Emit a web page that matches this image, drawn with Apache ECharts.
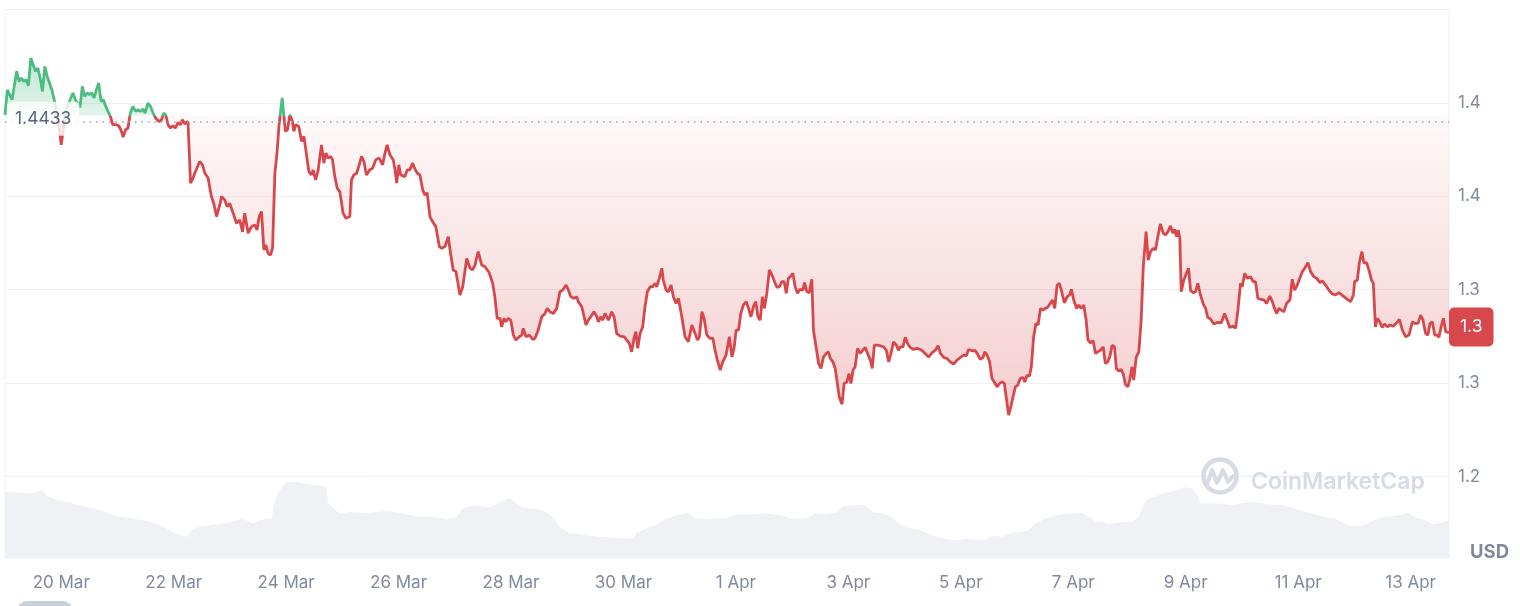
<!DOCTYPE html>
<html><head><meta charset="utf-8">
<script src="https://cdn.jsdelivr.net/npm/echarts@6/dist/echarts.min.js"></script>
<style>html,body{margin:0;padding:0;background:#fff}#c{width:1520px;height:606px}</style>
</head><body><div id="c"></div>
<script>
// Reference (open) price of the period
const baseline = 1.4433;
// [hours since 20 Mar 00:00, price USD]
const pricePoints = [
[-24,1.4437],[-23,1.4571],[-21,1.4518],[-19,1.4670],[-18,1.4616],[-17,1.4634],[-16,1.4616],[-15,1.4625],[-14,1.4593],[-13,1.4741],
[-11,1.4670],[-10,1.4688],[-9,1.4634],[-8,1.4562],[-7,1.4696],[-6,1.4643],[-4,1.4571],[-3,1.4518],[-1,1.4384],[0,1.4276],
[2,1.4464],[5,1.4554],[6,1.4518],[7,1.4500],[8,1.4475],[9,1.4589],[10,1.4535],[11,1.4554],[12,1.4545],[13,1.4554],
[14,1.4527],[15,1.4571],[16,1.4607],[17,1.4509],[18,1.4518],[19,1.4482],[21,1.4428],[22,1.4384],[23.5,1.4384],[24.6,1.4378],
[25.7,1.4348],[26.4,1.4318],[27.5,1.4357],[28.5,1.4366],[29.5,1.4446],[30.6,1.4482],[31.8,1.4455],[32.8,1.4464],[33.8,1.4455],[34.9,1.4468],
[35.8,1.4446],[37.0,1.4500],[38.1,1.4482],[39.2,1.4446],[40.3,1.4420],[41.7,1.4401],[42.8,1.4410],[43.7,1.4446],[44.6,1.4437],[45.6,1.4384],
[46.6,1.4366],[47.7,1.4378],[48.7,1.4366],[49.9,1.4396],[50.9,1.4384],[51.7,1.4410],[52.7,1.4389],[54.1,1.4401],[55.2,1.4071],[56.3,1.4098],
[57.0,1.4124],[57.7,1.4115],[59.1,1.4187],[60.3,1.4169],[61.3,1.4124],[62.7,1.4098],[64.1,1.3999],[65.1,1.3963],[66.3,1.3892],[67.7,1.3954],
[68.4,1.3999],[69.8,1.3981],[70.8,1.3945],[71.9,1.3963],[73.4,1.3910],[74.8,1.3856],[76.2,1.3874],[77.4,1.3810],[78.3,1.3910],[79.8,1.3803],
[81.2,1.3838],[82.6,1.3847],[83.6,1.3820],[84.5,1.3892],[85.5,1.3918],[86.5,1.3713],[87.3,1.3740],[88.3,1.3695],[89.3,1.3686],[90.2,1.3722],
[91.2,1.4124],[92.1,1.4232],[93.0,1.4384],[94.3,1.4527],[95.0,1.4437],[95.7,1.4348],[96.6,1.4357],[97.6,1.4437],[98.7,1.4401],[99.3,1.4348],
[100.1,1.4384],[101.4,1.4374],[102.6,1.4294],[103.6,1.4321],[104.7,1.4223],[105.7,1.4133],[106.8,1.4115],[107.5,1.4142],[108.6,1.4088],[109.7,1.4142],
[110.4,1.4151],[111.1,1.4276],[112.1,1.4178],[113.0,1.4232],[113.9,1.4205],[115.0,1.4214],[115.8,1.4196],[116.8,1.4106],[117.8,1.4044],[118.9,1.4026],
[119.7,1.3963],[120.3,1.3910],[121.5,1.3883],[123.2,1.3892],[123.9,1.4088],[124.9,1.4115],[126.1,1.4124],[127.2,1.4169],[128.2,1.4214],[129.2,1.4187],
[130.3,1.4115],[131.7,1.4142],[132.9,1.4151],[134.3,1.4196],[135.7,1.4205],[137.2,1.4169],[138.2,1.4232],[139.1,1.4276],[140.3,1.4223],[141.7,1.4196],
[142.4,1.4151],[143.2,1.4071],[144.1,1.4169],[144.9,1.4115],[145.7,1.4124],[146.7,1.4106],[147.7,1.4142],[148.8,1.4142],[150.0,1.4178],[151.0,1.4146],
[152.0,1.4124],[153.1,1.4115],[154.3,1.4035],[155.2,1.4008],[156.2,1.4020],[157.4,1.3892],[158.5,1.3865],[159.9,1.3838],[161.4,1.3731],[162.4,1.3722],
[163.8,1.3731],[165.2,1.3784],[166.2,1.3695],[167.3,1.3606],[168.5,1.3597],[170.2,1.3472],[171.4,1.3516],[173.1,1.3668],[174.5,1.3615],[175.6,1.3606],
[176.6,1.3632],[178.0,1.3704],[179.5,1.3632],[180.9,1.3623],[182.7,1.3591],[184.2,1.3534],[185.1,1.3462],[186.1,1.3347],[187.3,1.3347],[188.0,1.3301],
[189.0,1.3347],[189.8,1.3328],[190.8,1.3347],[191.9,1.3337],[193.0,1.3257],[194.1,1.3230],[195.5,1.3248],[196.6,1.3257],[197.2,1.3293],[198.4,1.3248],
[199.8,1.3257],[201.3,1.3234],[202.2,1.3239],[203.6,1.3284],[205.1,1.3355],[206.5,1.3373],[207.5,1.3400],[208.6,1.3382],[210.1,1.3373],[211.5,1.3400],
[212.2,1.3391],[212.9,1.3489],[214.1,1.3498],[215.5,1.3525],[216.5,1.3498],[217.5,1.3462],[218.9,1.3454],[220.1,1.3462],[220.7,1.3436],[222.2,1.3409],
[223.2,1.3355],[224.0,1.3311],[225.0,1.3337],[226.5,1.3364],[227.4,1.3382],[228.6,1.3355],[229.3,1.3328],[230.3,1.3355],[231.2,1.3337],[232.1,1.3373],
[233.6,1.3337],[235.0,1.3382],[236.0,1.3355],[237.1,1.3266],[238.5,1.3252],[240.3,1.3248],[241.4,1.3230],[242.5,1.3212],[243.5,1.3167],[244.5,1.3239],
[245.3,1.3275],[246.1,1.3186],[247.1,1.3266],[248.2,1.3301],[249.2,1.3409],[250.2,1.3489],[251.4,1.3516],[252.5,1.3516],[253.5,1.3534],[254.2,1.3516],
[255.3,1.3561],[256.4,1.3615],[257.0,1.3552],[258.2,1.3498],[259.2,1.3489],[260.3,1.3525],[261.3,1.3462],[262.5,1.3427],[263.5,1.3454],[264.9,1.3355],
[266.3,1.3248],[267.7,1.3221],[269.2,1.3311],[270.6,1.3266],[271.6,1.3230],[272.4,1.3248],[273.5,1.3382],[274.4,1.3347],[275.6,1.3257],[277.0,1.3239],
[278.2,1.3239],[279.1,1.3176],[280.1,1.3123],[281.3,1.3069],[282.4,1.3114],[283.8,1.3150],[285.2,1.3248],[286.3,1.3140],[287.2,1.3186],[288.1,1.3284],
[289.1,1.3284],[290.1,1.3373],[291.2,1.3418],[292.4,1.3436],[293.4,1.3400],[294.4,1.3355],[295.5,1.3409],[296.5,1.3436],[297.4,1.3355],[298.4,1.3337],
[299.3,1.3462],[300.2,1.3400],[301.2,1.3481],[302.3,1.3606],[303.4,1.3579],[304.5,1.3543],[305.5,1.3513],[306.6,1.3516],[307.6,1.3543],[308.6,1.3543],
[309.5,1.3481],[310.4,1.3561],[311.5,1.3573],[312.3,1.3588],[313.3,1.3516],[314.3,1.3481],[315.4,1.3502],[316.6,1.3498],[317.3,1.3538],[318.3,1.3489],
[319.3,1.3484],[320.4,1.3556],[321.1,1.3284],[322.3,1.3186],[323.3,1.3105],[324.3,1.3078],[325.4,1.3140],[326.6,1.3159],[327.5,1.3167],[328.3,1.3132],
[329.4,1.3114],[330.4,1.3078],[331.1,1.3016],[332.1,1.2926],[333.3,1.2887],[334.2,1.2998],[335.4,1.3006],[336.3,1.3051],[337.1,1.2998],[338.0,1.3069],
[338.9,1.3087],[339.9,1.3186],[341.1,1.3159],[342.2,1.3176],[343.2,1.3191],[344.2,1.3159],[345.4,1.3123],[346.2,1.3078],[347.1,1.3203],[348.2,1.3203],
[349.6,1.3200],[351.0,1.3194],[352.2,1.3176],[353.2,1.3114],[354.2,1.3159],[355.3,1.3221],[356.5,1.3203],[357.4,1.3176],[358.2,1.3194],[359.3,1.3194],
[360.3,1.3245],[361.3,1.3212],[362.4,1.3191],[363.8,1.3180],[365.3,1.3186],[366.7,1.3180],[368.1,1.3167],[370.3,1.3140],[371.7,1.3162],[373.1,1.3176],
[374.3,1.3200],[375.3,1.3159],[376.7,1.3137],[378.1,1.3132],[379.5,1.3114],[380.9,1.3101],[382.4,1.3123],[383.8,1.3137],[385.2,1.3150],[386.4,1.3147],
[387.3,1.3180],[388.8,1.3173],[390.2,1.3173],[391.2,1.3155],[392.3,1.3127],[393.5,1.3137],[394.2,1.3167],[395.2,1.3150],[396.3,1.3114],[397.3,1.3025],
[398.3,1.3006],[399.5,1.2980],[400.6,1.2998],[401.6,1.3006],[402.6,1.2998],[403.4,1.2989],[404.4,1.2828],[405.5,1.2881],[406.3,1.2872],[407.3,1.2980],
[408.3,1.2989],[409.4,1.3025],[410.6,1.3030],[411.3,1.3006],[412.3,1.3042],[413.3,1.3037],[414.1,1.3087],[415.1,1.3248],[416.1,1.3320],[417.0,1.3311],
[418.0,1.3400],[419.0,1.3391],[420.1,1.3400],[421.1,1.3406],[422.2,1.3427],[423.2,1.3445],[424.1,1.3400],[425.1,1.3525],[426.1,1.3534],[426.9,1.3498],
[428.2,1.3430],[429.4,1.3462],[430.5,1.3472],[431.2,1.3502],[432.2,1.3445],[433.4,1.3400],[434.3,1.3418],[435.4,1.3400],[436.5,1.3418],[437.5,1.3337],
[438.3,1.3230],[439.3,1.3216],[440.5,1.3226],[441.5,1.3159],[442.4,1.3167],[443.6,1.3176],[444.8,1.3194],[445.7,1.3105],[446.7,1.3114],[447.6,1.3140],
[448.6,1.3203],[449.6,1.3194],[450.4,1.3078],[451.4,1.3065],[452.4,1.3073],[453.3,1.3051],[454.3,1.2992],[455.3,1.2980],[456.1,1.3016],[457.1,1.3087],
[457.8,1.3016],[458.9,1.3140],[460.0,1.3167],[461.0,1.3337],[461.9,1.3623],[463.1,1.3811],[464.0,1.3659],[465.0,1.3704],[466.1,1.3722],[467.1,1.3713],
[468.1,1.3784],[469.2,1.3852],[470.4,1.3803],[471.4,1.3793],[472.4,1.3811],[473.5,1.3842],[474.5,1.3803],[475.3,1.3824],[476.1,1.3784],[476.8,1.3820],
[477.5,1.3776],[478.1,1.3489],[479.2,1.3552],[480.3,1.3588],[481.2,1.3615],[482.1,1.3495],[483.2,1.3484],[484.2,1.3489],[485.2,1.3534],[486.3,1.3472],
[487.5,1.3423],[488.5,1.3400],[489.4,1.3352],[490.6,1.3343],[492.0,1.3316],[493.5,1.3325],[495.2,1.3323],[496.6,1.3373],[497.7,1.3337],[498.8,1.3298],
[500.3,1.3305],[501.3,1.3293],[502.3,1.3391],[503.4,1.3534],[504.1,1.3516],[505.2,1.3588],[506.3,1.3561],[507.7,1.3570],[508.8,1.3543],[509.8,1.3543],
[510.8,1.3454],[512.0,1.3448],[513.4,1.3445],[514.5,1.3427],[515.9,1.3466],[517.0,1.3436],[517.9,1.3400],[518.8,1.3373],[519.8,1.3400],[520.8,1.3391],
[521.9,1.3382],[523.1,1.3427],[524.5,1.3445],[525.5,1.3556],[526.5,1.3498],[527.6,1.3525],[528.7,1.3561],[529.8,1.3597],[530.8,1.3615],[532.2,1.3645],
[533.3,1.3597],[534.5,1.3573],[535.9,1.3561],[537.3,1.3538],[538.3,1.3548],[539.7,1.3525],[541.1,1.3498],[542.6,1.3477],[544.0,1.3472],[545.4,1.3484],
[547.3,1.3466],[549.0,1.3448],[550.4,1.3436],[551.6,1.3472],[552.1,1.3543],[553.3,1.3552],[554.1,1.3642],[555.2,1.3704],[556.1,1.3642],[557.2,1.3645],
[558.2,1.3606],[559.3,1.3552],[560.1,1.3534],[561.0,1.3301],[561.8,1.3347],[562.8,1.3328],[563.9,1.3298],[564.9,1.3316],[566.1,1.3301],[567.2,1.3311],
[568.6,1.3305],[570.1,1.3323],[571.2,1.3341],[572.5,1.3284],[573.9,1.3248],[575.3,1.3257],[576.8,1.3328],[577.7,1.3320],[579.2,1.3320],[580.3,1.3364],
[581.3,1.3337],[582.4,1.3266],[583.4,1.3257],[584.3,1.3320],[585.3,1.3328],[586.3,1.3257],[587.4,1.3257],[588.1,1.3245],[589.2,1.3311],[590.0,1.3347],
[591.0,1.3275],[592.4,1.3270]
];
// volume (relative units, 100 = top of volume band), by hours since 20 Mar 00:00
const volumeHours = [-24,-17.8,-12.2,-8.4,-6.2,-3.7,2.3,9.1,16.4,23.7,30.5,37.8,45.0,50.6,53.6,55.7,59.1,66.4,73.2,77.5,
81.8,86.0,89.9,90.7,93.3,96.3,100.6,106.1,110.4,113.4,113.8,118.9,123.2,130.5,139.0,145.9,151.8,158.7,164.6,168.9,
171.5,175.8,178.7,183.0,187.3,191.6,194.4,197.2,201.5,205.1,207.9,210.8,213.6,217.2,221.5,225.7,230.0,235.0,238.5,244.2,
245.7,250.0,254.2,257.8,261.3,264.2,267.7,270.6,275.6,279.9,284.1,288.4,294.1,299.8,304.0,307.6,311.2,316.9,319.7,321.9,
326.1,330.4,333.9,338.9,343.2,346.8,350.3,353.9,356.8,359.6,363.2,367.4,371.0,374.5,378.8,383.1,386.7,390.2,394.5,397.3,
401.6,404.4,410.2,413.0,415.8,420.1,424.4,427.2,431.5,435.8,438.6,441.5,444.4,447.2,451.5,457.2,460.0,462.1,464.2,466.4,
470.7,476.4,479.2,482.8,485.0,486.3,493.5,500.6,503.4,509.1,514.8,521.9,529.1,536.2,543.3,550.4,556.1,560.4,564.6,571.8,
574.6,578.9,581.7,585.3,588.9,592.4];
const volumeValues = [80.9,80.1,78.9,83.8,76.8,72.8,68.7,63.8,58.5,51.2,48.4,44.3,36.2,28.0,26.0,34.1,38.2,41.5,44.3,48.4,
42.3,47.2,48.4,66.7,82.9,93.0,93.0,90.2,89.0,87.0,66.7,54.5,56.5,55.2,57.7,54.5,50.4,50.4,47.2,50.4,
60.6,64.6,63.8,61.8,68.7,72.8,66.7,61.3,60.6,58.5,54.5,46.3,36.2,30.1,28.9,27.2,25.6,25.2,24.0,24.0,
31.3,36.2,41.1,47.2,51.2,53.3,55.2,48.4,47.2,48.4,49.1,53.3,53.3,54.5,53.3,52.4,48.4,47.6,50.4,54.5,
53.7,55.7,63.4,64.6,64.6,55.7,54.5,51.6,44.3,38.2,36.2,33.3,28.0,26.0,22.8,22.0,24.0,22.0,22.0,27.2,
26.0,30.1,32.1,34.1,42.3,48.4,52.4,53.3,54.5,55.2,50.4,45.1,44.3,41.8,43.5,44.3,50.4,66.7,72.8,74.8,
78.9,82.9,87.0,85.0,76.8,66.7,66.7,64.6,66.7,68.7,65.9,64.6,58.5,52.4,48.4,39.0,40.2,46.3,50.4,52.4,
55.2,48.4,47.2,41.5,43.0,46.3];
const priceTickValues = [1.25, 1.30, 1.35, 1.40, 1.45, 1.50];
const monthNames = ['Jan','Feb','Mar','Apr','May','Jun','Jul','Aug','Sep','Oct','Nov','Dec'];
const startDateUTC = Date.UTC(2025, 2, 20);

const RED = '#d8474b', GREEN = '#4cbc80';
const GRAY = '#808a9d', GRID = '#eff2f5';
function trunc1(v){ return (Math.floor(v * 10 + 1e-6) / 10).toFixed(1); }
function fmtDate(v){
  const d = v / 48;
  if (Math.abs(d - Math.round(d)) > 1e-6) return '';
  const dt = new Date(startDateUTC + v * 3600000);
  return dt.getUTCDate() + ' ' + monthNames[dt.getUTCMonth()];
}
const priceData = pricePoints.map(p => [p[0], p[1]]);
const downData = pricePoints.map(p => [p[0], Math.min(p[1], baseline)]);
const upData = pricePoints.map(p => [p[0], Math.max(p[1], baseline)]);
const n = Math.min(volumeHours.length, volumeValues.length);
const volData = volumeHours.slice(0, n).map((h, i) => [h, volumeValues[i]]);
const lastPrice = pricePoints[pricePoints.length - 1][1];
const xMin = pricePoints[0][0], xMax = pricePoints[pricePoints.length - 1][0];
const yMin = priceTickValues[0], yMax = priceTickValues[priceTickValues.length - 1];
const yStep = priceTickValues[1] - priceTickValues[0];

const chart = echarts.init(document.getElementById('c'), null, {renderer: 'canvas'});
const option = {
  animation: false,
  backgroundColor: '#ffffff',
  textStyle: {fontFamily: 'Inter'},
  grid: [
    {left: 5, right: 71, top: 9.7, height: 466.7, show: true, borderColor: GRID, borderWidth: 1, backgroundColor: 'transparent'},
    {left: 5, right: 71, top: 476.4, bottom: 48, show: true, borderColor: GRID, borderWidth: 1, backgroundColor: 'transparent'}
  ],
  xAxis: [
    {type: 'value', gridIndex: 0, min: xMin, max: xMax, interval: 24,
     axisLine: {show: false}, axisTick: {show: false}, axisLabel: {show: false}, splitLine: {show: false}},
    {type: 'value', gridIndex: 1, min: xMin, max: xMax, interval: 24,
     axisLine: {show: false}, axisTick: {show: false}, splitLine: {show: false},
     axisLabel: {margin: 16, fontFamily: 'Inter', fontSize: 17, color: GRAY, formatter: fmtDate}}
  ],
  yAxis: [
    {type: 'value', gridIndex: 0, position: 'right', min: yMin, max: yMax, interval: yStep,
     axisLine: {show: false}, axisTick: {show: false},
     splitLine: {show: true, lineStyle: {color: GRID, width: 1}},
     axisLabel: {margin: 9, fontFamily: 'Inter', fontSize: 17, color: GRAY,
       formatter: v => (v > yMax - 1e-6 ? '' : trunc1(v))}},
    {type: 'value', gridIndex: 1, min: 0, max: 100, show: false, splitLine: {show: false}}
  ],
  visualMap: {
    type: 'piecewise', show: false, seriesIndex: 2, dimension: 1,
    pieces: [{gt: 0, lte: baseline, color: RED}, {gt: baseline, lte: 10, color: GREEN}]
  },
  series: [
    {type: 'line', name: 'down', xAxisIndex: 0, yAxisIndex: 0, data: downData, showSymbol: false, silent: true, z: 1,
     lineStyle: {width: 0, opacity: 0},
     areaStyle: {origin: baseline, opacity: 1, color: new echarts.graphic.LinearGradient(0, 0, 0, 1, [
       {offset: 0, color: 'rgba(216,71,75,0.03)'}, {offset: 1, color: 'rgba(216,71,75,0.27)'}])}},
    {type: 'line', name: 'up', xAxisIndex: 0, yAxisIndex: 0, data: upData, showSymbol: false, silent: true, z: 1,
     lineStyle: {width: 0, opacity: 0},
     areaStyle: {origin: baseline, opacity: 1, color: new echarts.graphic.LinearGradient(0, 0, 0, 1, [
       {offset: 0, color: 'rgba(76,188,128,0.34)'}, {offset: 1, color: 'rgba(76,188,128,0.16)'}])}},
    {type: 'line', name: 'price', xAxisIndex: 0, yAxisIndex: 0, data: priceData, showSymbol: false, z: 3,
     lineStyle: {width: 2.8},
     markLine: {
       silent: true, symbol: ['none', 'none'], animation: false,
       data: [
         {yAxis: baseline,
          lineStyle: {type: [1.5, 5], color: '#9ca3b3', width: 1.5},
          label: {show: true, position: 'insideStartTop', distance: [2, 3], verticalAlign: 'middle', align: 'left',
                  formatter: baseline.toFixed(4), fontFamily: 'Inter', fontSize: 17.5, color: '#58667e',
                  backgroundColor: 'rgba(255,255,255,0.8)', padding: [8, 8], borderRadius: 4}},
         {yAxis: lastPrice,
          lineStyle: {width: 1, opacity: 1, color: 'rgba(0,0,0,0)', type: 'solid'},
          label: {show: true, opacity: 1, position: 'end', distance: 0, formatter: trunc1(lastPrice),
                  fontFamily: 'Inter', fontSize: 17.5, color: '#ffffff', backgroundColor: RED,
                  padding: [11, 11, 10, 11], borderRadius: 5}}
       ]
     }},
    {type: 'line', name: 'volume', xAxisIndex: 1, yAxisIndex: 1, data: volData, showSymbol: false, silent: true, z: 1,
     lineStyle: {width: 0, opacity: 0}, areaStyle: {color: '#eff1f5', opacity: 1}}
  ],
  graphic: [
    {type: 'circle', z: 100, shape: {cx: 1220, cy: 476, r: 16.5}, style: {fill: 'none', stroke: '#d6dbe6', lineWidth: 4.5}},
    {type: 'polyline', z: 100, shape: {points: [[1207, 484], [1212, 470], [1217, 483], [1223, 470], [1228, 482], [1233, 476]]},
     style: {fill: 'none', stroke: '#d6dbe6', lineWidth: 4, lineJoin: 'round', lineCap: 'round'}},
    {type: 'text', z: 100, x: 1251, y: 482, style: {text: 'CoinMarketCap', font: '600 23px Inter', fill: '#d6dbe6', verticalAlign: 'middle'}},
    {type: 'text', z: 100, x: 1470, y: 552, style: {text: 'USD', font: 'bold 18.5px Inter', fill: GRAY, verticalAlign: 'middle'}},
    {type: 'rect', z: 100, shape: {x: 17, y: 601, width: 56, height: 20, r: 10}, style: {fill: '#c9d0dd'}}
  ]
};
chart.setOption(option);
</script>
</body></html>
